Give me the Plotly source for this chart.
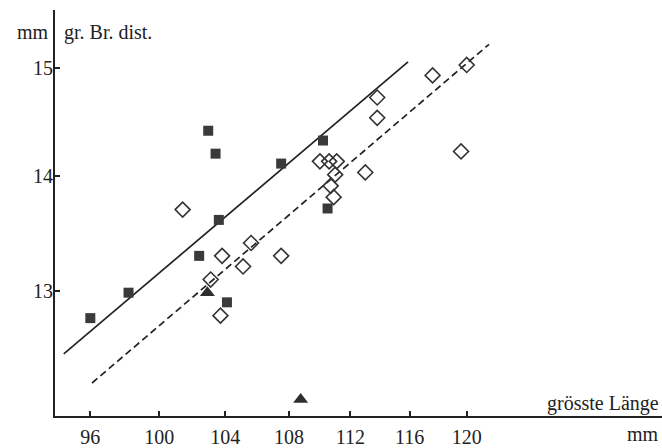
import plotly.graph_objects as go

# grösste Länge (mm) vs. gr. Br. dist. (mm)
sq_x = [96.0, 98.2, 102.4, 102.95, 103.4, 103.6, 104.1, 107.5, 110.2, 110.5]
sq_y = [12.78, 12.99, 13.30, 14.41, 14.20, 13.61, 12.91, 14.11, 14.32, 13.71]

tri_x = [102.9, 108.75]
tri_y = [12.99, 12.13]

dia_x = [101.4, 103.8, 105.6, 105.1, 107.5, 103.1, 103.7, 110.0, 110.6, 111.1,
         111.0, 110.7, 110.9, 113.0, 113.8, 113.8, 117.6, 120.0, 119.6]
dia_y = [13.70, 13.30, 13.41, 13.21, 13.30, 13.10, 12.80, 14.13, 14.13, 14.13,
         14.01, 13.91, 13.81, 14.03, 14.72, 14.53, 14.93, 15.03, 14.22]

# regression lines (straight on the log-log grid)
fit_solid_x = [94.5, 115.9]
fit_solid_y = [12.49, 15.06]
fit_dash_x = [96.1, 121.6]
fit_dash_y = [12.26, 15.23]

x_ticks = [96, 100, 104, 108, 112, 116, 120]
y_ticks = [13, 14, 15]

ink = "#222222"
font = dict(family="Liberation Serif, Times New Roman, serif", size=20, color=ink)

fig = go.Figure()
fig.add_trace(go.Scatter(x=fit_solid_x, y=fit_solid_y, mode="lines",
                         line=dict(color=ink, width=1.7)))
fig.add_trace(go.Scatter(x=fit_dash_x, y=fit_dash_y, mode="lines",
                         line=dict(color=ink, width=1.7, dash="7px,4px")))
fig.add_trace(go.Scatter(x=dia_x, y=dia_y, mode="markers",
                         marker=dict(symbol="diamond-open", size=11.5,
                                     color="#333333", line=dict(width=1.6))))
fig.add_trace(go.Scatter(x=sq_x, y=sq_y, mode="markers",
                         marker=dict(symbol="square", size=10, color="#3a3a3a",
                                     line=dict(width=0))))
fig.add_trace(go.Scatter(x=tri_x, y=tri_y, mode="markers",
                         marker=dict(symbol="triangle-up", size=13, color="#2e2e2e",
                                     line=dict(width=0))))

fig.update_xaxes(type="log", range=[1.973177, 2.129471],
                 tickvals=x_ticks, ticktext=[str(v) for v in x_ticks],
                 ticks="inside", ticklen=5, tickwidth=1.5, tickcolor=ink,
                 ticklabelstandoff=2,
                 showline=True, linewidth=2, linecolor=ink,
                 showgrid=False, zeroline=False, tickfont=font)
fig.update_yaxes(type="log", range=[1.079304, 1.192254],
                 tickvals=y_ticks, ticktext=[str(v) for v in y_ticks],
                 ticks="inside", ticklen=5, tickwidth=1.5, tickcolor=ink,
                 ticklabelstandoff=-4,
                 showline=True, linewidth=2, linecolor=ink,
                 showgrid=False, zeroline=False, tickfont=font)

annots = [
    dict(text="mm", x=-0.006, y=0.9446, xanchor="right", yanchor="middle"),
    dict(text="gr. Br. dist.", x=0.0115, y=0.9446, xanchor="left", yanchor="middle"),
    dict(text="grösste Länge", x=0.9985, y=0.031, xanchor="right", yanchor="middle"),
    dict(text="mm", x=0.9985, y=-0.045, xanchor="right", yanchor="middle"),
]
for a in annots:
    fig.add_annotation(xref="x domain", yref="y domain", showarrow=False,
                       font=font, **a)

fig.update_layout(width=662, height=448,
                  margin=dict(l=55, r=0, t=10, b=23),
                  paper_bgcolor="white", plot_bgcolor="white",
                  showlegend=False)

fig.write_html("out.html")
